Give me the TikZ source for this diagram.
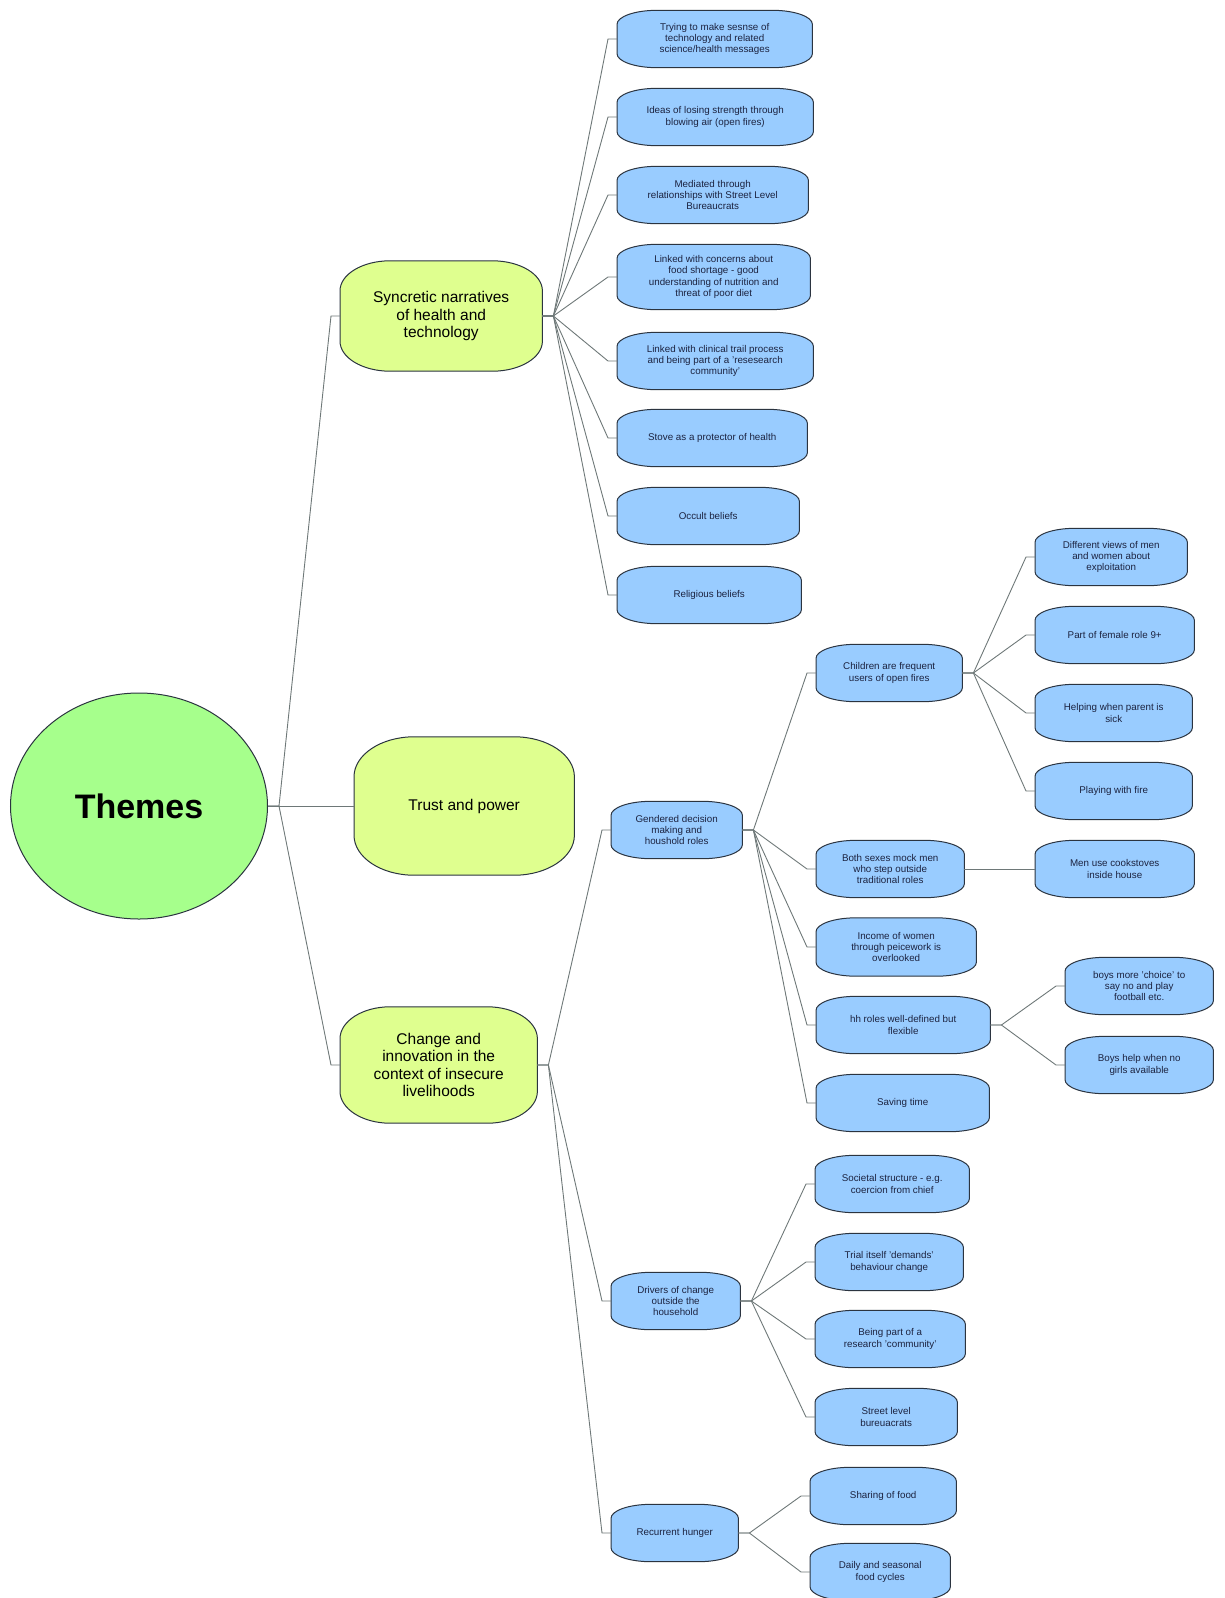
\documentclass[tikz,border=0pt]{standalone}
\usepackage{fontspec}
\setmainfont{Liberation Sans}
\usepackage{tikz}
\usepackage{xcolor}
\definecolor{themegreen}{HTML}{A6FF8C}
\definecolor{topicgreen}{HTML}{DFFF8F}
\definecolor{leafblue}{HTML}{99CCFF}
\definecolor{edgegray}{HTML}{6E7878}
\definecolor{boxline}{HTML}{2B3440}
\definecolor{leaftext}{HTML}{1C2340}
\tikzset{theme/.style={ellipse, draw=boxline, fill=themegreen, line width=1pt,
   font=\fontsize{34}{40}\selectfont\bfseries},
 topic/.style={rectangle, align=center, font=\fontsize{15.5}{17.3}\selectfont},
 leaf/.style={rectangle, align=center, minimum height=57, inner sep=2pt, text=leaftext,
   font=\fontsize{9.8}{11.3}\selectfont},
 link/.style={draw=edgegray, line width=0.9pt},
 outline/.style={draw=boxline, line width=1pt},
 }
\usetikzlibrary{backgrounds}
\usetikzlibrary{shapes}
\newcommand{\twig}[2]{\draw[link] (#1.east) -- ++(11,0) -- ([xshift=-9pt]#2.west) -- (#2.west);}
% box with elliptic corners: node, x radius, y radius, fill
\newcommand{\bubble}[4]{%
  \begin{pgfonlayer}{background}
  \draw[outline, fill=#4]
    ([yshift=-#3]#1.north west) .. controls ([yshift=-0.45*#3]#1.north west) and ([xshift=0.45*#2]#1.north west) .. ([xshift=#2]#1.north west)
    -- ([xshift=-#2]#1.north east) .. controls ([xshift=-0.45*#2]#1.north east) and ([yshift=-0.45*#3]#1.north east) .. ([yshift=-#3]#1.north east)
    -- ([yshift=#3]#1.south east) .. controls ([yshift=0.45*#3]#1.south east) and ([xshift=-0.45*#2]#1.south east) .. ([xshift=-#2]#1.south east)
    -- ([xshift=#2]#1.south west) .. controls ([xshift=0.45*#2]#1.south west) and ([yshift=0.45*#3]#1.south west) .. ([yshift=#3]#1.south west)
    -- cycle;
  \end{pgfonlayer}}

\begin{document}
\begin{tikzpicture}[x=1pt,y=-1pt]
    \useasboundingbox (0,0) rectangle (1225,1598);
    % root and the three topics
    \node[theme, minimum width=257, minimum height=226, inner sep=0pt] (themes) at (139,806) {Themes};
    \node[topic, minimum width=202, minimum height=110, anchor=west] (syn) at (340,316)
        {Syncretic narratives\\of health and\\technology};
    \node[topic, minimum width=220, minimum height=138, anchor=west] (trust) at (354,806)
        {Trust and power};
    \node[topic, minimum width=197, minimum height=116, anchor=west] (chg) at (340,1065)
        {Change and\\innovation in the\\context of insecure\\livelihoods};
    \bubble{syn}{50pt}{30pt}{topicgreen}
    \bubble{trust}{60pt}{40pt}{topicgreen}
    \bubble{chg}{50pt}{32pt}{topicgreen}
    \twig{themes}{syn}
    \twig{themes}{trust}
    \twig{themes}{chg}

    % health and technology
    \foreach \name/\y/\w/\h/\txt in {
        s1/39/195/57/{Trying to make sesnse of\\technology and related\\science/health messages},
        s2/117/196/57/{Ideas of losing strength through\\blowing air (open fires)},
        s3/195/191/57/{Mediated through\\relationships with Street Level\\Bureaucrats},
        s4/277/193/65/{Linked with concerns about\\food shortage - good\\understanding of nutrition and\\threat of poor diet},
        s5/361/196/57/{Linked with clinical trail process\\and being part of a 'resesearch\\community'},
        s6/438/190/57/{Stove as a protector of health},
        s7/516/182/57/{Occult beliefs},
        s8/595/184/57/{Religious beliefs}} {
            \node[leaf, minimum width=\w, minimum height=\h, anchor=west] (\name) at (617,\y) {\txt};
            \twig{syn}{\name}
        }

    % change and innovation
    \node[leaf, minimum width=131, anchor=west] (gen) at (611,830) {Gendered decision\\making and\\houshold roles};
    \node[leaf, minimum width=129, anchor=west] (drv) at (611,1301) {Drivers of change\\outside the\\household};
    \node[leaf, minimum width=127, anchor=west] (hun) at (611,1533) {Recurrent hunger};
    \twig{chg}{gen}
    \twig{chg}{drv}
    \twig{chg}{hun}

    \node[leaf, minimum width=146, anchor=west] (kids) at (816,673) {Children are frequent\\users of open fires};
    \node[leaf, minimum width=148, anchor=west] (mock) at (816,869) {Both sexes mock men\\who step outside\\traditional roles};
    \node[leaf, minimum width=160, minimum height=58, anchor=west] (income) at (816,947) {Income of women\\through peicework is\\overlooked};
    \node[leaf, minimum width=174, anchor=west] (hh) at (816,1025) {hh roles well-defined but\\flexible};
    \node[leaf, minimum width=173, anchor=west] (saving) at (816,1103) {Saving time};
    \foreach \name in {kids, mock, income, hh, saving} {
        \twig{gen}{\name}
    }

    \node[leaf, minimum width=152, anchor=west] (views) at (1035,557) {Different views of men\\and women about\\exploitation};
    \node[leaf, minimum width=159, anchor=west] (female) at (1035,635) {Part of female role 9+};
    \node[leaf, minimum width=157, anchor=west] (sick) at (1035,713) {Helping when parent is\\sick};
    \node[leaf, minimum width=157, anchor=west] (play) at (1035,791) {Playing with fire};
    \foreach \name in {views, female, sick, play} {
        \twig{kids}{\name}
    }
    \node[leaf, minimum width=159, anchor=west] (men) at (1035,869) {Men use cookstoves\\inside house};
    \twig{mock}{men}

    \node[leaf, minimum width=148, anchor=west] (choice) at (1065,986) {boys more 'choice' to\\say no and play\\football etc.};
    \node[leaf, minimum width=148, anchor=west] (boys) at (1065,1065) {Boys help when no\\girls available};
    \twig{hh}{choice}
    \twig{hh}{boys}

    \node[leaf, minimum width=154, anchor=west] (chief) at (815,1184) {Societal structure - e.g.\\coercion from chief};
    \node[leaf, minimum width=148, anchor=west] (trial) at (815,1262) {Trial itself 'demands'\\behaviour change};
    \node[leaf, minimum width=150, anchor=west] (community) at (815,1339) {Being part of a\\research 'community'};
    \node[leaf, minimum width=142, anchor=west] (street) at (815,1417) {Street level\\bureuacrats};
    \foreach \name in {chief, trial, community, street} {
        \twig{drv}{\name}
    }

    \node[leaf, minimum width=146, anchor=west] (sharing) at (810,1496) {Sharing of food};
    \node[leaf, minimum width=140, anchor=west] (cycles) at (810,1572) {Daily and seasonal\\food cycles};
    \twig{hun}{sharing}
    \twig{hun}{cycles}

    % blue outlines behind the texts
    \foreach \name in {s1, s2, s3, s4, s5, s6, s7, s8, gen, drv, hun, kids, mock, income, hh, saving,
        views, female, sick, play, men, choice, boys, chief, trial, community, street, sharing, cycles} {
        \bubble{\name}{40pt}{14pt}{leafblue}
    }
\end{tikzpicture}
\end{document}
